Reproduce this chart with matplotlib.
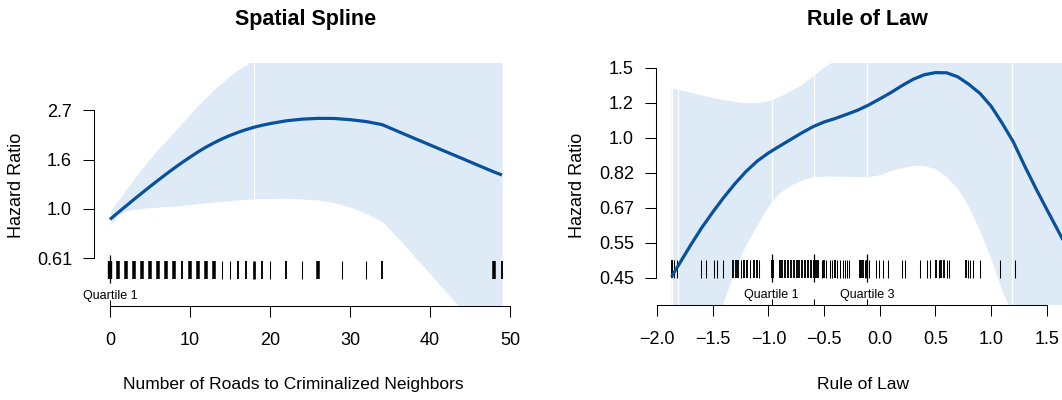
import numpy as np
import matplotlib
matplotlib.use("Agg")
import matplotlib.pyplot as plt

plt.rcParams['font.family'] = ['Liberation Sans', 'DejaVu Sans']

W, H = 1062, 400

# ---- Spatial spline: log hazard by number of roads to criminalized neighbours
roads_x = [0, 1, 2, 3, 4, 5, 6, 7, 8, 9, 10, 11, 12, 13, 14, 15, 16, 17, 18,
           19, 20, 22, 24, 26, 28, 30, 32, 34, 36, 38, 40, 42, 44, 46, 48, 49]
roads_fit = [-0.105, -0.037, 0.03, 0.097, 0.162, 0.227, 0.29, 0.352, 0.412,
             0.47, 0.525, 0.578, 0.627, 0.67, 0.71, 0.745, 0.776, 0.804,
             0.828, 0.848, 0.865, 0.893, 0.910, 0.918, 0.917, 0.905, 0.886,
             0.855, 0.786, 0.717, 0.649, 0.580, 0.512, 0.443, 0.375, 0.344]
roads_lo = [-0.17, -0.06, -0.02, -0.005, 0.005, 0.012, 0.018, 0.024, 0.03,
            0.037, 0.045, 0.053, 0.062, 0.07, 0.078, 0.085, 0.092, 0.097,
            0.101, 0.104, 0.106, 0.108, 0.102, 0.09, 0.065, 0.02, -0.045,
            -0.125, -0.293, -0.475, -0.657, -0.84, -1.02, -1.2, -1.38, -1.47]
roads_hi = [-0.03, 0.085, 0.195, 0.305, 0.41, 0.51, 0.605, 0.69, 0.78, 0.87,
            0.96, 1.05, 1.13, 1.21, 1.28, 1.35, 1.41, 1.46, 1.51, 1.56, 1.6,
            1.68, 1.72, 1.75, 1.78, 1.81, 1.82, 1.84, 1.87, 1.91, 1.95, 2.0,
            2.04, 2.09, 2.13, 2.16]
roads_rug = [0, 1, 2, 3, 4, 5, 6, 7, 8, 9, 10, 11, 12, 13, 14, 15, 16, 17,
             18, 19, 20, 22, 24, 26, 29, 32, 34, 48, 49]
roads_rug_n = [5, 4, 4, 4, 4, 4, 4, 4, 4, 2, 4, 4, 4, 4, 1, 1, 2, 2, 3, 2, 1,
               2, 1, 4, 1, 1, 2, 4, 2]
roads_guides = [0, 18]
roads_quartiles = [0]
roads_quartile_labels = ["Quartile 1"]
roads_xticks = [0, 10, 20, 30, 40, 50]
roads_xlabels = ["0", "10", "20", "30", "40", "50"]
roads_yticks = [-0.5, 0.0, 0.5, 1.0]
roads_ylabels = ["0.61", "1.0", "1.6", "2.7"]

# ---- Rule of law: log hazard
law_x = [-1.87, -1.8, -1.7, -1.6, -1.5, -1.4, -1.3, -1.2, -1.1, -1.0, -0.9,
         -0.8, -0.7, -0.6, -0.5, -0.4, -0.3, -0.2, -0.1, 0.0, 0.1, 0.2, 0.3,
         0.4, 0.5, 0.6, 0.7, 0.8, 0.9, 1.0, 1.1, 1.2, 1.3, 1.4, 1.5, 1.6,
         1.65]
law_fit = [-0.794, -0.72, -0.615, -0.515, -0.425, -0.34, -0.262, -0.192,
           -0.133, -0.087, -0.048, -0.01, 0.028, 0.063, 0.09, 0.11, 0.133,
           0.157, 0.187, 0.222, 0.258, 0.298, 0.334, 0.36, 0.372, 0.371,
           0.348, 0.305, 0.253, 0.18, 0.082, -0.025, -0.16, -0.288, -0.41,
           -0.53, -0.59]
law_lo = [-1.87, -1.7, -1.48, -1.28, -1.1, -0.94, -0.76, -0.615, -0.505,
          -0.395, -0.32, -0.275, -0.245, -0.226, -0.222, -0.222, -0.223,
          -0.225, -0.225, -0.215, -0.192, -0.175, -0.162, -0.162, -0.18,
          -0.225, -0.29, -0.395, -0.53, -0.69, -0.875, -1.02, -1.25, -1.45,
          -1.65, -1.85, -1.95]
law_hi = [0.282, 0.272, 0.257, 0.243, 0.228, 0.215, 0.205, 0.198, 0.198,
          0.208, 0.232, 0.265, 0.3, 0.35, 0.40, 0.44, 0.49, 0.54, 0.6, 0.66,
          0.71, 0.77, 0.83, 0.88, 0.92, 0.97, 0.99, 1.0, 1.03, 1.05, 1.04,
          1.0, 0.93, 0.87, 0.83, 0.79, 0.77]
law_rug = [-1.864, -1.846, -1.825, -1.607, -1.565, -1.49, -1.46, -1.41,
           -1.316, -1.295, -1.271, -1.247, -1.221, -1.197, -1.167, -1.128,
           -1.107, -1.083, -0.972, -0.957, -0.897, -0.874, -0.847, -0.823,
           -0.799, -0.772, -0.748, -0.724, -0.697, -0.673, -0.649, -0.622,
           -0.589, -0.574, -0.553, -0.523, -0.499, -0.479, -0.449, -0.425,
           -0.404, -0.380, -0.359, -0.335, -0.314, -0.293, -0.275, -0.180,
           -0.165, -0.150, -0.135, -0.111, -0.096, -0.030, -0.006, 0.030,
           0.075, 0.195, 0.230, 0.359, 0.425, 0.449, 0.509, 0.530, 0.554,
           0.575, 0.599, 0.623, 0.772, 0.793, 0.808, 0.838, 0.904, 1.077,
           1.218, 1.65]
law_rug_n = [2, 1, 1, 1, 1, 1, 1, 1,
             2, 2, 2, 1, 2, 2, 1, 2,
             2, 1, 2, 2, 2, 2, 2, 2,
             2, 2, 2, 2, 2, 2, 2, 2,
             2, 2, 2, 1, 2, 1, 1, 1,
             2, 1, 1, 1, 1, 1, 1, 2,
             2, 2, 1, 2, 1, 1, 1, 1,
             1, 1, 1, 1, 1, 1, 2, 1, 2,
             2, 1, 1, 2, 1, 1, 1, 1, 1,
             1, 1]
law_guides = [-1.864, -1.816, -0.972, -0.589, -0.111, 1.188]
law_quartiles = [-0.972, -0.589, -0.111]
law_quartile_labels = ["Quartile 1", "", "Quartile 3"]
law_xticks = [-2.0, -1.5, -1.0, -0.5, 0.0, 0.5, 1.0, 1.5]
law_xlabels = ["\u22122.0", "\u22121.5", "\u22121.0", "\u22120.5", "0.0",
               "0.5", "1.0", "1.5"]
law_yticks = [-0.8, -0.6, -0.4, -0.2, 0.0, 0.2, 0.4]
law_ylabels = ["0.45", "0.55", "0.67", "0.82", "1.0", "1.2", "1.5"]

LINE = '#08519C'
BAND = '#DEEBF7'

fig = plt.figure(figsize=(W / 100, H / 100), dpi=100)


def add_panel(left, right, top, bottom):
    return fig.add_axes([left / W, 1 - bottom / H, (right - left) / W,
                         (bottom - top) / H])


def draw_panel(ax, x, fit, lo, hi, rug, rug_n, guides, quartiles, qlabels,
               xticks, xlabels, yticks, ylabels, xlim, ylim):
    ax.set_xlim(*xlim)
    ax.set_ylim(*ylim)
    ax.fill_between(x, lo, hi, color=BAND, lw=0, zorder=1)
    ax.vlines(guides, ylim[0], ylim[1], color='white', lw=0.9, zorder=1.5)
    tr = ax.get_xaxis_transform()
    lws = [0.75 + 0.6 * (n - 1) for n in rug_n]
    ax.vlines(rug, 0.111, 0.185, transform=tr, color='black', lw=lws,
              zorder=2)
    ax.vlines(quartiles, 0.093, 0.21, transform=tr, color='black', lw=0.9,
              zorder=2)
    ax.vlines(quartiles, 0.0, 0.026, transform=tr, color='black', lw=0.75,
              zorder=2)
    for q, lab in zip(quartiles, qlabels):
        if lab:
            ax.text(q, 0.043, lab, transform=tr, ha='center', va='center',
                    fontsize=9, zorder=4)
    ax.plot(x, fit, color=LINE, lw=2.3, zorder=3, solid_capstyle='butt',
            solid_joinstyle='round')

    for s in ('top', 'right'):
        ax.spines[s].set_visible(False)
    for s in ('left', 'bottom'):
        ax.spines[s].set_linewidth(0.75)
    ax.spines['left'].set_bounds(yticks[0], yticks[-1])
    ax.spines['bottom'].set_bounds(xticks[0], xticks[-1])
    ax.set_xticks(xticks)
    ax.set_xticklabels(xlabels)
    ax.set_yticks(yticks)
    ax.set_yticklabels(ylabels)
    ax.tick_params(axis='both', direction='out', length=8, width=0.75,
                   labelsize=13, colors='black')
    ax.tick_params(axis='x', pad=11)
    ax.tick_params(axis='y', pad=8)


ax1 = add_panel(94.3, 517.7, 63, 306)
draw_panel(ax1, roads_x, roads_fit, roads_lo, roads_hi, roads_rug,
           roads_rug_n, roads_guides, roads_quartiles, roads_quartile_labels,
           roads_xticks, roads_xlabels, roads_yticks, roads_ylabels,
           (-1.96, 50.96), (-0.983, 1.479))

ax2 = add_panel(656, 1078, 63, 305)
draw_panel(ax2, law_x, law_fit, law_lo, law_hi, law_rug, law_rug_n,
           law_guides, law_quartiles, law_quartile_labels,
           law_xticks, law_xlabels, law_yticks, law_ylabels,
           (-2.01, 1.78), (-0.956, 0.427))

fig.text(306 / W, 1 - 25 / H, "Spatial Spline", ha='center', va='baseline',
         fontsize=15.5, fontweight='bold')
fig.text(867 / W, 1 - 25 / H, "Rule of Law", ha='center', va='baseline',
         fontsize=15.5, fontweight='bold')
fig.text(293 / W, 1 - 389 / H, "Number of Roads to Criminalized Neighbors",
         ha='center', va='baseline', fontsize=12.5)
fig.text(863 / W, 1 - 389 / H, "Rule of Law", ha='center', va='baseline',
         fontsize=12.5)
fig.text(17 / W, 1 - 185 / H, "Hazard Ratio", rotation=90, ha='center',
         va='center', fontsize=13)
fig.text(578 / W, 1 - 185 / H, "Hazard Ratio", rotation=90, ha='center',
         va='center', fontsize=13)

fig.savefig("out.png", dpi=100)
